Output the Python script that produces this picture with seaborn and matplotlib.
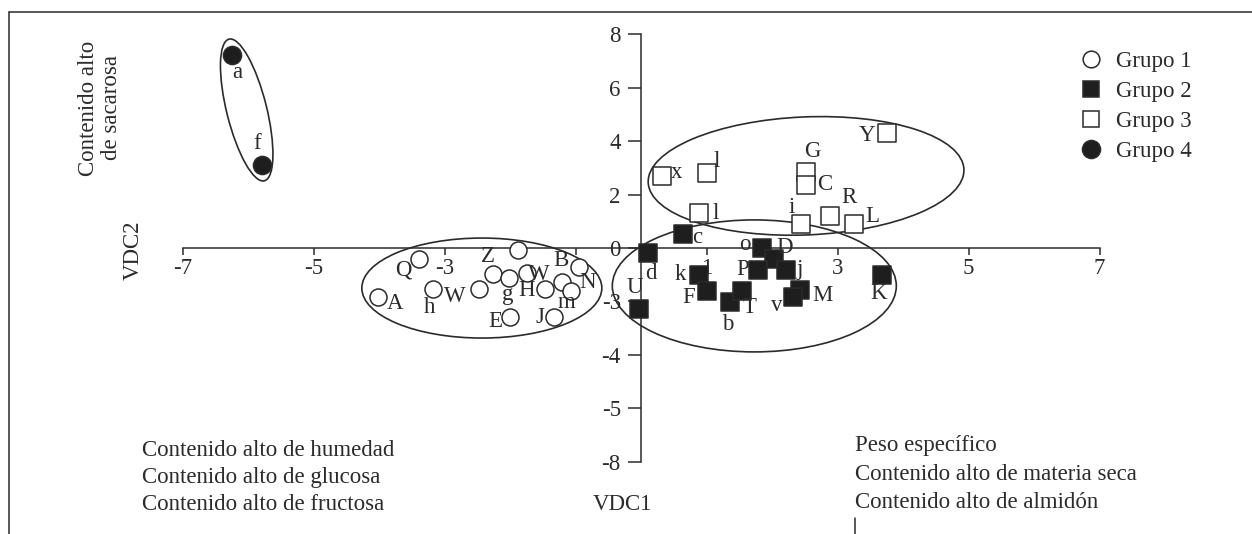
import numpy as np
import pandas as pd
import matplotlib
matplotlib.use("Agg")
import matplotlib.pyplot as plt
import seaborn as sns
from matplotlib.patches import Ellipse
from matplotlib.transforms import Affine2D
from matplotlib.lines import Line2D

sns.set_theme(style="white")
plt.rcParams['font.family'] = ['Liberation Serif', 'DejaVu Serif']

# ---------------- data ----------------
g1_x = [-1.88, -3.39, -4.02, -3.18, -2.47, -2.26, -2.02, -1.74, -1.47, -1.21, -1.07, -0.95, -2.00, -1.33]
g1_y = [-0.07, -0.41, -1.84, -1.54, -1.54, -0.97, -1.12, -0.94, -1.54, -1.27, -1.61, -0.71, -2.58, -2.58]
g1_lab = ["Z", "Q", "A", "h", "W", "", "g", "W", "H", "B", "m", "N", "E", "J"]

g2_x = [0.64, 0.11, -0.03, 0.89, 1.01, 1.36, 1.54, 1.85, 2.03, 1.79, 2.21, 2.43, 2.32, 3.68]
g2_y = [0.52, -0.19, -2.28, -1.01, -1.61, -2.02, -1.61, 0.00, -0.41, -0.82, -0.82, -1.57, -1.84, -1.01]
g2_lab = ["c", "d", "U", "k", "F", "b", "T", "o", "D", "P", "j", "M", "v", "K"]

g3_x = [0.32, 1.01, 0.89, 2.52, 2.52, 3.75, 2.44, 2.88, 3.25]
g3_y = [2.70, 2.81, 1.31, 2.85, 2.36, 4.31, 0.90, 1.20, 0.90]
g3_lab = ["x", "l", "l", "G", "C", "Y", "i", "R", "L"]

g4_x = [-6.24, -5.79]
g4_y = [7.23, 3.11]
g4_lab = ["a", "f"]

group_names = ["Grupo 1", "Grupo 2", "Grupo 3", "Grupo 4"]

x_ticks = [-7, -5, -3, -1, 1, 3, 5, 7]
x_ticklabels = ["-7", "-5", "-3", "", "1", "3", "5", "7"]
y_ticks = [8, 6, 4, 2, 0, -2, -4, -6, -8]
y_ticklabels = ["8", "6", "4", "2", "0", "-3", "-4", "-5", "-8"]

left_notes = ["Contenido alto de humedad", "Contenido alto de glucosa", "Contenido alto de fructosa"]
right_notes = ["Peso específico", "Contenido alto de materia seca", "Contenido alto de almidón"]

# ---------------- styling / layout ----------------
# label offsets in pixels (dx, dy with y downward)
g1_off = [(-30, 7), (-16, 11), (17, 6), (-3, 18), (-24, 7), (0, 0), (-1, 17), (12, 1),
          (-18, 1), (-1, -21), (-4, 12), (9, 16), (-15, 5), (-14, 1)]
g2_off = [(14, 3), (3, 20), (-4, -21), (-19, 0), (-18, 7), (-2, 23), (8, 17), (-17, -4),
          (11, -11), (-16, 0), (14, 0), (22, 6), (-16, 8), (-3, 19)]
g3_off = [(15, -3), (10, -11), (16, 0), (6, -20), (19, 0), (-20, 3), (-9, -16), (19, -18), (18, -7)]
g4_off = [(5, 18), (-5, -21)]

W, H = 1252, 534
fig = plt.figure(figsize=(W / 100, H / 100), dpi=100)
ax_l, ax_r, ax_t, ax_b = 150, 1240, 20, 470
ax = fig.add_axes([ax_l / W, 1 - ax_b / H, (ax_r - ax_l) / W, (ax_b - ax_t) / H])
x0px, y0px, sx, sy = 641, 248, 65.5, 26.7
ax.set_xlim((ax_l - x0px) / sx, (ax_r - x0px) / sx)
ax.set_ylim((y0px - ax_b) / sy, (y0px - ax_t) / sy)

dark = "#2b2b2b"
FS = 16.5

def draw(xs, ys, labs, offs, marker, face, size, name):
    df = pd.DataFrame({"x": xs, "y": ys})
    sns.scatterplot(data=df, x="x", y="y", marker=marker, s=size, color=face,
                    edgecolor=dark, linewidth=1.1, ax=ax, label=name, zorder=3, legend=False)
    for xv, yv, lb, (dx, dy) in zip(xs, ys, labs, offs):
        if lb:
            ax.annotate(lb, (xv, yv), xytext=(dx * 0.72, -dy * 0.72), textcoords="offset points",
                        ha="center", va="center", fontsize=FS, color=dark, zorder=4)

draw(g1_x, g1_y, g1_lab, g1_off, "o", "white", 150, group_names[0])
draw(g2_x, g2_y, g2_lab, g2_off, "s", "#1e1e1e", 150, group_names[1])
draw(g3_x, g3_y, g3_lab, g3_off, "s", "white", 150, group_names[2])
draw(g4_x, g4_y, g4_lab, g4_off, "o", "#1e1e1e", 170, group_names[3])

# ellipses (center in data units, semi-axes in pixels, angle in degrees)
ells = [((-2.43, -1.50), 120, 50, 0), ((1.73, -1.42), 142, 66, 0),
        ((2.52, 2.70), 158, 59, 2.4), ((-6.02, 5.17), 73, 20, -76)]
tr = Affine2D().scale(1 / sx, 1 / sy) + ax.transData
for (cx, cy), a, b, ang in ells:
    e = Ellipse((cx * sx, cy * sy), 2 * a, 2 * b, angle=ang, fill=False,
                edgecolor=dark, linewidth=1.2, transform=tr, zorder=2)
    ax.add_patch(e)

# axes through origin
for s in ["top", "right"]:
    ax.spines[s].set_visible(False)
ax.spines["left"].set_position(("data", 0))
ax.spines["bottom"].set_position(("data", 0))
ax.spines["left"].set_bounds(-8, 8)
ax.spines["bottom"].set_bounds(-7, 7)
for s in ["left", "bottom"]:
    ax.spines[s].set_color(dark)
    ax.spines[s].set_linewidth(1.1)
ax.set_xticks(x_ticks)
ax.set_xticklabels(x_ticklabels)
ax.set_yticks(y_ticks)
ax.set_yticklabels(y_ticklabels)
ax.tick_params(axis="x", direction="out", length=5, width=1.1, color=dark, pad=2,
               labelsize=FS, labelcolor=dark, bottom=True)
ax.tick_params(axis="y", direction="out", length=9.5, width=1.1, color=dark, pad=5,
               labelsize=FS, labelcolor=dark, left=True)
ax.set_xlabel("")
ax.set_ylabel("")
ax.grid(False)

# legend
handles = [
    Line2D([], [], marker="o", ls="", markersize=12, markerfacecolor="white", markeredgecolor=dark, markeredgewidth=1.1),
    Line2D([], [], marker="s", ls="", markersize=11, markerfacecolor="#1e1e1e", markeredgecolor=dark, markeredgewidth=1.1),
    Line2D([], [], marker="s", ls="", markersize=11, markerfacecolor="white", markeredgecolor=dark, markeredgewidth=1.1),
    Line2D([], [], marker="o", ls="", markersize=13, markerfacecolor="#1e1e1e", markeredgecolor=dark, markeredgewidth=1.1),
]
fig.legend(handles, group_names, loc="upper left", bbox_to_anchor=(1068 / W, 1 - 40 / H),
           frameon=False, fontsize=FS, labelspacing=0.38, handletextpad=0.6, handlelength=1.0,
           borderpad=0, labelcolor=dark)

def ftext(px, py, s, **kw):
    fig.text(px / W, 1 - py / H, s, fontsize=FS, color=dark, **kw)

ftext(100, 108, "Contenido alto\nde sacarosa", rotation=90, ha="center", va="center",
      multialignment="center", linespacing=1.15)
ftext(133, 250, "VDC2", rotation=90, ha="center", va="center")
ftext(622, 505, "VDC1", ha="center", va="center")
for i, t in enumerate(left_notes):
    ftext(142, 451 + 27 * i, t, ha="left", va="center")
for i, t in enumerate(right_notes):
    ftext(855, 446 + 28 * i, t, ha="left", va="center")

# frame lines
fig.add_artist(Line2D([9 / W, 1], [1 - 12 / H, 1 - 12 / H], color=dark, lw=1.1))
fig.add_artist(Line2D([9 / W, 9 / W], [1 - 12 / H, 0], color=dark, lw=1.1))
fig.add_artist(Line2D([855 / W, 855 / W], [1 - 518 / H, 0], color=dark, lw=1.1))

fig.savefig("out.png", dpi=100)
